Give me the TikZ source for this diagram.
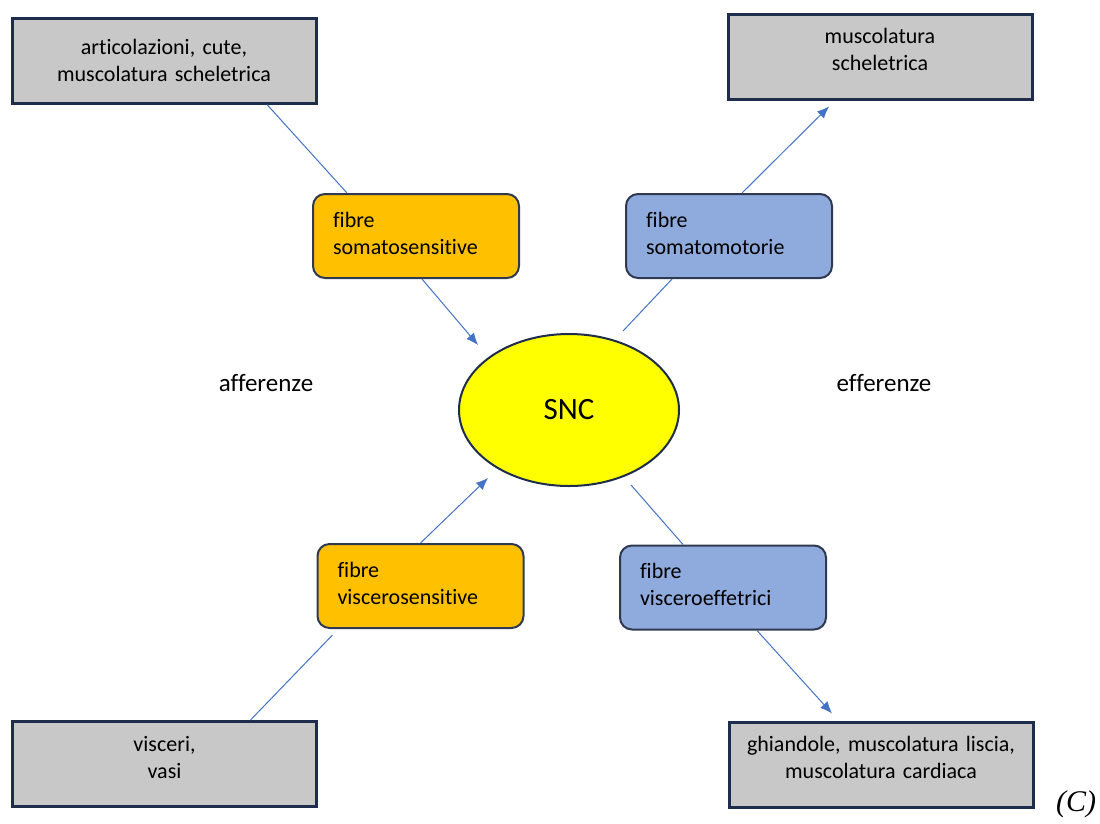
\documentclass[tikz,border=0pt]{standalone}
\usepackage{fontspec}
\setmainfont{Carlito}[Ligatures=NoCommon]
\newfontfamily\timesfont{Liberation Serif}
\usetikzlibrary{shapes.geometric,arrows.meta,positioning}
\definecolor{boxgray}{RGB}{200,200,200}
\definecolor{boxborder}{RGB}{31,45,77}
\definecolor{fibreorange}{RGB}{255,192,0}
\definecolor{fibreblue}{RGB}{143,170,220}
\definecolor{fibreborder}{RGB}{47,58,82}
\definecolor{sncyellow}{RGB}{255,255,0}
\definecolor{linkblue}{RGB}{68,114,196}

\begin{document}
\begin{tikzpicture}[
        x=1pt, y=-1pt,
        organ/.style={draw=boxborder, fill=boxgray, line width=3pt, minimum width=304pt, minimum height=85pt, text width=290pt, align=center, inner sep=0pt, font=\fontsize{22}{27}\selectfont},
        raised/.style={text depth=41pt},
        fibre/.style={draw=fibreborder, line width=2pt, rounded corners=12pt, minimum width=206pt, minimum height=84pt, text width=166pt, align=left, inner sep=0pt, text depth=33pt, font=\fontsize{22}{27}\selectfont},
        centre/.style={ellipse, draw=boxborder, fill=sncyellow, line width=2pt, minimum width=220pt, minimum height=152pt, inner sep=0pt, font=\fontsize{31}{36}\selectfont},
        side/.style={font=\fontsize{25}{30}\selectfont},
        link/.style={draw=linkblue, line width=1pt},
        feed/.style={link, -{Latex[length=12pt,width=10pt]}}
    ]
        \useasboundingbox (0,0) rectangle (1100,823);

        % Central nervous system
        \node[centre] (snc) at (569,410) {SNC};

        % Peripheral targets
        \node[organ] (orgSkel) at (164,60.5) {articolazioni, cute,\\muscolatura scheletrica};
        \node[organ, raised] (orgMusc) at (880,56.5) {muscolatura\\scheletrica};
        \node[organ, raised] (orgVisc) at (164.5,764) {visceri,\\vasi};
        \node[organ, raised] (orgGland) at (881,764.5) {ghiandole, muscolatura liscia,\\muscolatura cardiaca};

        % Fibres
        \node[fibre, fill=fibreorange] (soSens) at (416,236) {fibre\\somatosensitive};
        \node[fibre, fill=fibreblue] (soMot) at (729,236) {fibre\\somatomotorie};
        \node[fibre, fill=fibreorange] (visSens) at (420.5,586) {fibre\\viscerosensitive};
        \node[fibre, fill=fibreblue] (visEff) at (723,587.5) {fibre\\visceroeffetrici};

        % Side labels
        \node[side] (aff) at (266,383) {afferenze};
        \node[side] (eff) at (884,383) {efferenze};
        \node[font=\timesfont\itshape\fontsize{30}{32}\selectfont] (tag) at (1076,804) {(C)};

        % Ends next to SNC
        \coordinate (inSoSens) at (478,345);
        \coordinate (outSoMot) at (623,331);
        \coordinate (inVisSens) at (488,478);
        \coordinate (outVisEff) at (631,485);

        % Connections
        \draw[link] ([xshift=103pt]orgSkel.south) -- ([xshift=-69pt]soSens.north);
        \draw[feed] ([xshift=6pt]soSens.south) -- (inSoSens);
        \draw[link] (outSoMot) -- ([xshift=-57pt]soMot.south);
        \draw[feed] ([xshift=13pt]soMot.north) -- ([xshift=-51pt,yshift=-6pt]orgMusc.south);
        \draw[link] ([xshift=86pt]orgVisc.north) -- ([xshift=-88pt,yshift=-6pt]visSens.south);
        \draw[feed] (visSens.north) -- (inVisSens);
        \draw[link] (outVisEff) -- ([xshift=-40pt]visEff.north);
        \draw[feed] ([xshift=34pt]visEff.south) -- ([xshift=-49pt,yshift=7pt]orgGland.north);
    \end{tikzpicture}
\end{document}
